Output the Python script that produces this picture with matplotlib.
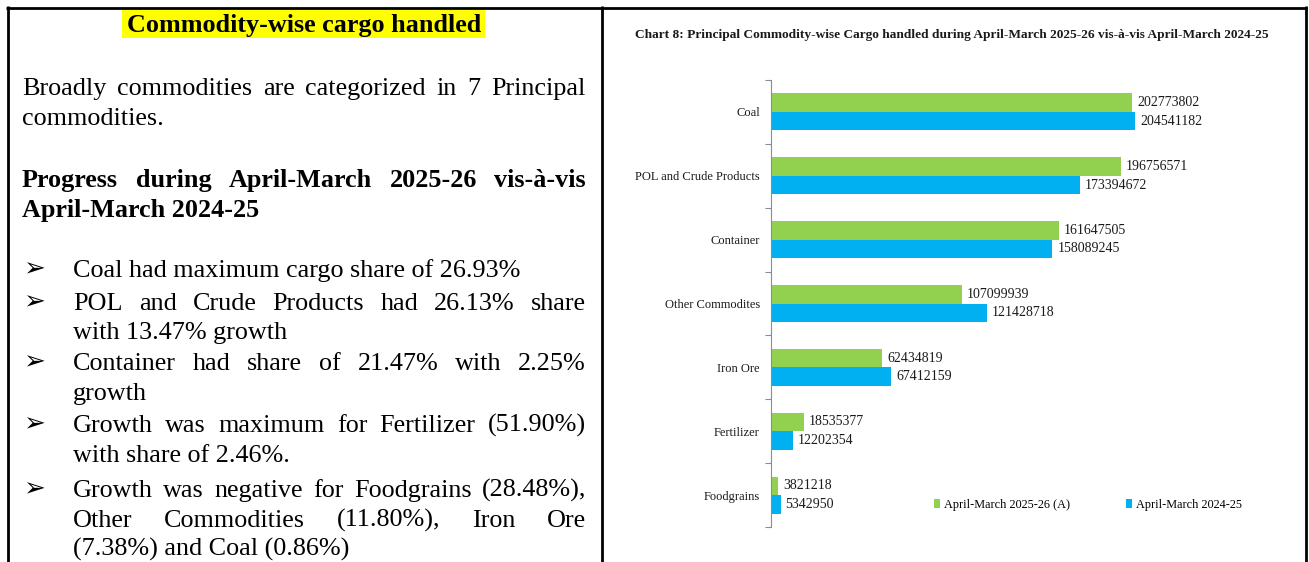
import matplotlib
matplotlib.use("Agg")
import matplotlib.pyplot as plt
from matplotlib.lines import Line2D
from matplotlib.patches import Rectangle, Patch
import numpy as np

# ---------------- data ----------------
categories = ["Coal", "POL and Crude Products", "Container", "Other Commodites",
              "Iron Ore", "Fertilizer", "Foodgrains"]
cargo_2526 = [202773802, 196756571, 161647505, 107099939, 62434819, 18535377, 3821218]
cargo_2425 = [204541182, 173394672, 158089245, 121428718, 67412159, 12202354, 5342950]
series_labels = ["April-March 2025-26 (A)", "April-March 2024-25"]
chart_title = ("Chart 8: Principal Commodity-wise Cargo handled during "
               "April-March 2025-26 vis-à-vis April-March 2024-25")
panel_heading = "Commodity-wise cargo handled"
panel_text = [
    # (text, bold, justified, bullet)
    ("Broadly commodities are categorized in 7 Principal", False, True, False),
    ("commodities.", False, False, False),
    ("Progress during April-March 2025-26 vis-à-vis", True, True, False),
    ("April-March 2024-25", True, False, False),
    ("Coal had maximum cargo share of 26.93%", False, False, True),
    ("POL and Crude Products had 26.13% share", False, True, True),
    ("with 13.47% growth", False, False, False),
    ("Container had share of 21.47% with 2.25%", False, True, True),
    ("growth", False, False, False),
    ("Growth was maximum for Fertilizer (51.90%)", False, True, True),
    ("with share of 2.46%.", False, False, False),
    ("Growth was negative for Foodgrains (28.48%),", False, True, True),
    ("Other Commodities (11.80%), Iron Ore", False, True, False),
    ("(7.38%) and Coal (0.86%)", False, False, False),
]
bullet_sign = "➢"

# ---------------- layout ----------------
W, H = 1309, 562
DPI = 100
GREEN = "#92D050"
BLUE = "#00B0F0"
SERIF = ["Liberation Serif", "DejaVu Sans"]

fig = plt.figure(figsize=(W / DPI, H / DPI), dpi=DPI)
fig.patch.set_facecolor("white")

def fx(px):
    return px / W

def fy(py):
    return 1 - py / H

# outer table borders
for (x0, y0, x1, y1) in [(6, 7.5, 1307, 7.5), (7.5, 6, 7.5, H), (602, 6, 602, H), (1306, 6, 1306, H)]:
    fig.add_artist(Line2D([fx(x0), fx(x1)], [fy(y0), fy(y1)], color="black", lw=2.0,
                          transform=fig.transFigure, solid_capstyle="butt"))

# ---------------- left panel ----------------
FS = 18.8
renderer = fig.canvas.get_renderer()

# heading with yellow highlight
fig.add_artist(Rectangle((fx(122), fy(37.5)), fx(485) - fx(122), fy(10) - fy(37.5),
                         transform=fig.transFigure, facecolor="#FFFF00", edgecolor="none"))
fig.text(fx(304), fy(32), panel_heading, fontsize=FS, fontweight="bold", family=SERIF,
         ha="center", va="baseline")

baselines = [95, 125, 187, 217, 277, 310, 339, 370, 400, 432, 462, 497, 527, 556]
X_LEFT, X_BUL_TEXT, X_RIGHT, X_BUL = 22, 73, 586, 23

for idx, ((txt, bold, just, bullet), yb) in enumerate(zip(panel_text, baselines)):
    weight = "bold" if bold else "normal"
    x0 = X_BUL_TEXT if idx >= 4 else X_LEFT
    if bullet:
        fig.text(fx(X_BUL), fy(yb - 1), bullet_sign, fontsize=FS * 1.0, family=["DejaVu Sans"],
                 fontweight="bold", ha="left", va="baseline")
    if just:
        words = txt.split(" ")
        arts = [fig.text(0, 0, w, fontsize=FS, fontweight=weight, family=SERIF,
                         ha="left", va="baseline") for w in words]
        widths = [a.get_window_extent(renderer).width for a in arts]
        gap = (X_RIGHT - x0 - sum(widths)) / (len(words) - 1)
        xx = x0
        for a, wd in zip(arts, widths):
            a.set_position((fx(xx), fy(yb)))
            xx += wd + gap
    else:
        fig.text(fx(x0), fy(yb), txt, fontsize=FS, fontweight=weight, family=SERIF,
                 ha="left", va="baseline")

# ---------------- right chart ----------------
fig.text(fx(952), fy(38), chart_title, fontsize=9.6, fontweight="bold", family=SERIF,
         ha="center", va="baseline", color="#1a1a1a")

ax_left, ax_right, ax_top, ax_bottom = 771, 1271, 80, 527
ax = fig.add_axes([fx(ax_left), fy(ax_bottom), (ax_right - ax_left) / W, (ax_bottom - ax_top) / H])
px_per_unit = 1.78e-6
ax.set_xlim(0, (ax_right - ax_left) / px_per_unit)
n = len(categories)
ypos = np.arange(n)
bh = 0.29
ax.barh(ypos - bh / 2, cargo_2526, height=bh, color=GREEN, label=series_labels[0])
ax.barh(ypos + bh / 2, cargo_2425, height=bh, color=BLUE, label=series_labels[1])
ax.set_ylim(n - 0.5, -0.5)

lab_off = 5 / px_per_unit
for i in range(n):
    ax.text(cargo_2526[i] + lab_off, ypos[i] - bh / 2, f"{cargo_2526[i]}", fontsize=10,
            family=SERIF, va="center", ha="left", color="#1a1a1a")
    ax.text(cargo_2425[i] + lab_off, ypos[i] + bh / 2, f"{cargo_2425[i]}", fontsize=10,
            family=SERIF, va="center", ha="left", color="#1a1a1a")

for s in ["top", "right", "bottom"]:
    ax.spines[s].set_visible(False)
ax.spines["left"].set_color("#8c8c8c")
ax.spines["left"].set_linewidth(0.8)
ax.set_xticks([])
ax.set_yticks(ypos)
ax.set_yticklabels(categories, family=SERIF, fontsize=9, color="#1a1a1a")
ax.tick_params(axis="y", which="major", length=0, pad=8)
ax.set_yticks(np.arange(-0.5, n, 1.0), minor=True)
ax.tick_params(axis="y", which="minor", length=4, width=0.8, color="#8c8c8c", direction="out")

handles = [Patch(facecolor=GREEN, edgecolor="none"), Patch(facecolor=BLUE, edgecolor="none")]
fig.legend(handles, series_labels, loc="center left", bbox_to_anchor=(fx(934), fy(505)),
           ncol=2, frameon=False, prop={"family": SERIF, "size": 8.8},
           handlelength=0.45, handleheight=0.8, handletextpad=0.35, columnspacing=4.6,
           borderpad=0, borderaxespad=0)

fig.savefig("out.png", dpi=DPI, facecolor="white")
